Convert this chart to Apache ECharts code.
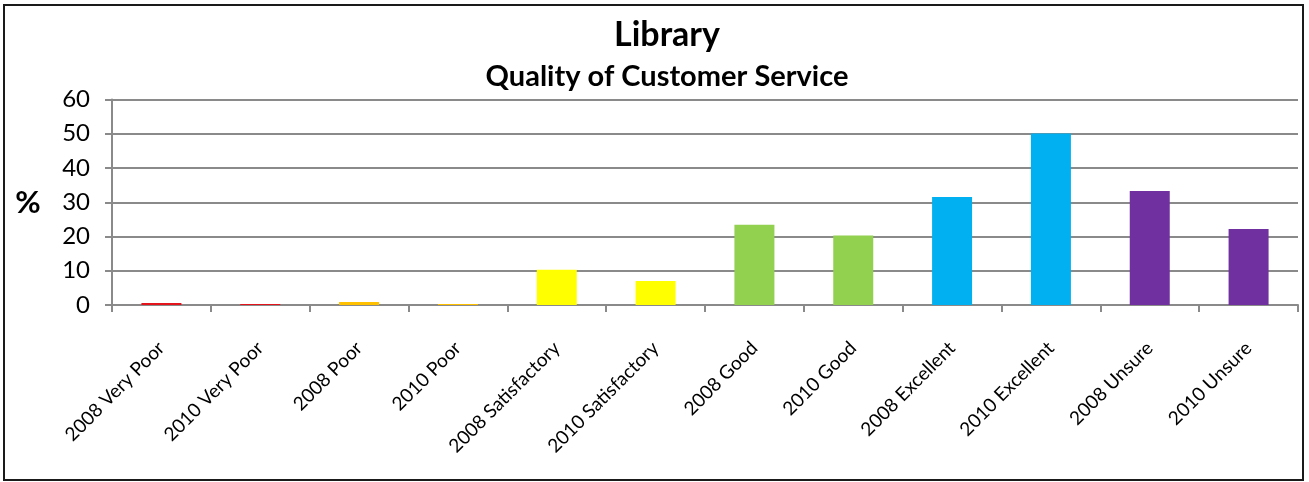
<!DOCTYPE html>
<html>
<head>
<meta charset="utf-8">
<script src="https://cdn.jsdelivr.net/npm/echarts@6/dist/echarts.min.js"></script>
<style>
  html, body { margin: 0; padding: 0; background: #ffffff; }
  #chart { width: 1309px; height: 482px; }
</style>
</head>
<body>
<div id="chart"></div>
<script>
// Survey responses, percentage of respondents per rating and year
const categories = [
  '2008 Very Poor', '2010 Very Poor', '2008 Poor', '2010 Poor',
  '2008 Satisfactory', '2010 Satisfactory', '2008 Good', '2010 Good',
  '2008 Excellent', '2010 Excellent', '2008 Unsure', '2010 Unsure'
];
const percentValues = [0.6, 0.3, 0.9, 0.3, 10.3, 7.0, 23.4, 20.3, 31.5, 50.1, 33.3, 22.2];
const yTicks = [0, 10, 20, 30, 40, 50, 60];

// One colour per rating group (each group holds the 2008 and 2010 bars)
const groupColors = ['#E3141C', '#FFC000', '#FFFF00', '#92D050', '#00B0F0', '#7030A0'];

const FONT = 'Lato, "Open Sans", sans-serif';
const GRID_COLOR = '#8a8a8a';

const chart = echarts.init(document.getElementById('chart'), null, { renderer: 'canvas' });

chart.setOption({
  backgroundColor: '#ffffff',
  animation: false,
  graphic: [
    {
      type: 'rect',
      shape: { x: 4, y: 5, width: 1299, height: 475 },
      style: { fill: null, stroke: '#1a1a1a', lineWidth: 2 },
      silent: true
    },
    {
      type: 'text',
      x: 667, y: 35,
      style: {
        text: 'Library', fontFamily: FONT, fontSize: 34, fontWeight: 'bold', fill: '#000',
        align: 'center', verticalAlign: 'middle'
      }
    },
    {
      type: 'text',
      x: 667, y: 77,
      style: {
        text: 'Quality of Customer Service', fontFamily: FONT, fontSize: 29, fontWeight: 'bold', fill: '#000',
        align: 'center', verticalAlign: 'middle'
      }
    },
    {
      type: 'text',
      x: 28, y: 203,
      style: {
        text: '%', fontFamily: FONT, fontSize: 31, fontWeight: 'bold', fill: '#000',
        align: 'center', verticalAlign: 'middle'
      }
    }
  ],
  grid: { left: 112, right: 11, top: 99.5, bottom: 177, containLabel: false },
  xAxis: {
    type: 'category',
    data: categories,
    boundaryGap: true,
    axisLine: { show: true, lineStyle: { color: GRID_COLOR, width: 2 } },
    axisTick: { show: true, length: 7, alignWithLabel: false, lineStyle: { color: GRID_COLOR, width: 2 } },
    axisLabel: {
      rotate: 45,
      interval: 0,
      margin: 40,
      fontFamily: FONT,
      fontSize: 19,
      color: '#000'
    }
  },
  yAxis: {
    type: 'value',
    min: yTicks[0],
    max: yTicks[yTicks.length - 1],
    interval: yTicks[1] - yTicks[0],
    axisLine: { show: true, lineStyle: { color: GRID_COLOR, width: 2 } },
    axisTick: { show: true, length: 7, lineStyle: { color: GRID_COLOR, width: 2 } },
    splitLine: { show: true, lineStyle: { color: GRID_COLOR, width: 2 } },
    axisLabel: { margin: 22, fontFamily: FONT, fontSize: 24, color: '#000' }
  },
  series: [
    {
      type: 'bar',
      barWidth: 40,
      data: percentValues.map((v, i) => ({
        value: v,
        itemStyle: { color: groupColors[Math.floor(i / 2)] }
      }))
    }
  ]
});
</script>
</body>
</html>
